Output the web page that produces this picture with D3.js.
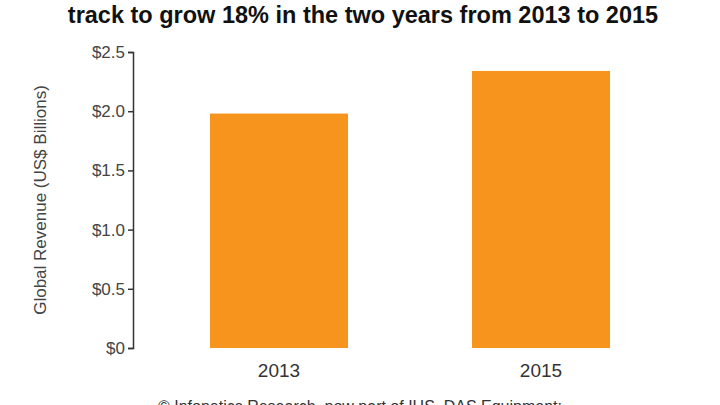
<!DOCTYPE html><html><head><script src="https://cdn.jsdelivr.net/npm/d3@7"></script>
<style>body{margin:0;background:#fff}</style></head><body><svg width="720" height="405"></svg><script>
const categories=["2013","2015"];
const values=[1.98,2.34];
const ticks=[0,0.5,1.0,1.5,2.0,2.5];
const tickLabels=["$0","$0.5","$1.0","$1.5","$2.0","$2.5"];
const svg=d3.select("svg");
const y=d3.scaleLinear().domain([0,2.5]).range([348,52]);
const xs=d3.scaleOrdinal().domain(categories).range([210,472]);
svg.append("text").attr("x",363).attr("y",23).attr("text-anchor","middle").attr("font-family","Liberation Sans, Arial").attr("font-weight","bold").attr("font-size",23.5).attr("fill","#111").text("track to grow 18% in the two years from 2013 to 2015");
const ax=svg.append("g").attr("transform","translate(133,0)").call(d3.axisLeft(y).tickValues(ticks).tickFormat((d,i)=>tickLabels[i]).tickSize(5).tickPadding(3));
ax.select(".domain").attr("stroke","#333").attr("stroke-width",1.5);
ax.selectAll("line").attr("stroke","#333").attr("stroke-width",1.5);
ax.selectAll("text").attr("font-family","Liberation Sans, Arial").attr("font-size",17).attr("fill","#444");
svg.append("text").attr("transform","translate(46,200) rotate(-90)").attr("text-anchor","middle").attr("font-family","Liberation Sans, Arial").attr("font-size",17).attr("fill","#444").text("Global Revenue (US$ Billions)");
svg.selectAll("rect.b").data(values).join("rect").attr("x",(d,i)=>xs(categories[i])).attr("width",138).attr("y",d=>y(d)).attr("height",d=>y(0)-y(d)).attr("fill","#f7941d");
svg.selectAll("text.c").data(categories).join("text").attr("x",d=>xs(d)+69).attr("y",377).attr("text-anchor","middle").attr("font-family","Liberation Sans, Arial").attr("font-size",19).attr("fill","#333").text(d=>d);
svg.append("text").attr("x",360).attr("y",412).attr("text-anchor","middle").attr("font-family","Liberation Sans, Arial").attr("font-size",16).attr("fill","#333").text("© Infonetics Research, now part of IHS, DAS Equipment:");
</script></body></html>
